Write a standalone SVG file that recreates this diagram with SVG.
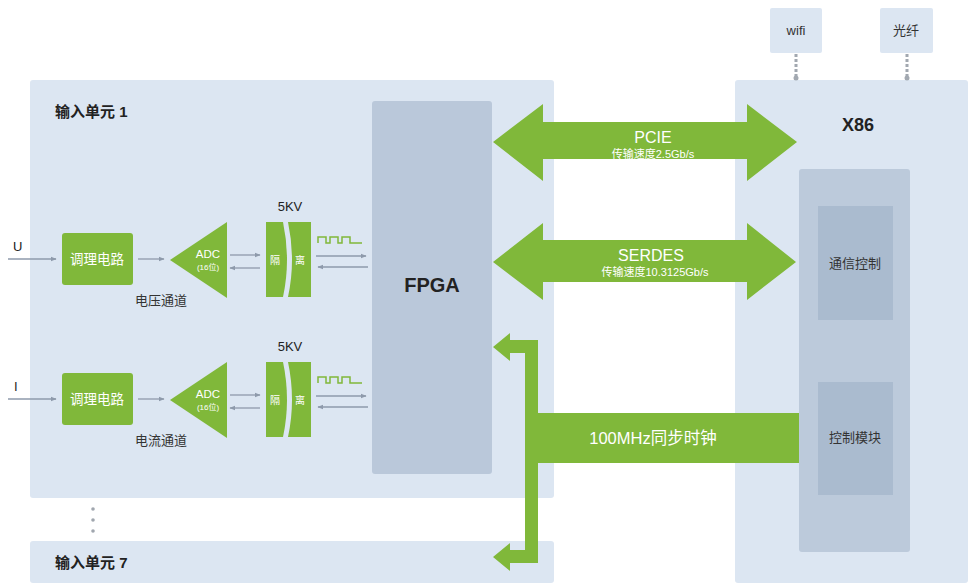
<svg xmlns="http://www.w3.org/2000/svg" width="968" height="585" viewBox="0 0 968 585">
<style>
text{font-family:"Liberation Sans","Noto Sans CJK SC",sans-serif}
.panel{fill:#dce6f2}
.fpga{fill:#bac8da}
.green{fill:#80b83a}
.wt{fill:#ffffff;text-anchor:middle}
.dk{fill:#222222}
.cn{fill:#333333;text-anchor:middle}
.ga{stroke:#8e9aab;stroke-width:1.3;fill:none;marker-end:url(#ah)}
.dot{stroke:#a2a8b0;stroke-width:3;stroke-dasharray:3 2;fill:none}
</style>
<defs>
<marker id="ah" viewBox="0 0 10 10" refX="9" refY="5" markerWidth="6" markerHeight="6" orient="auto" markerUnits="userSpaceOnUse">
<path d="M0,1 L10,5 L0,9 Z" fill="#8e9aab"/>
</marker>
</defs>
<rect width="968" height="585" fill="#ffffff"/>

<g id="unit1">
<rect class="panel" x="30" y="80" width="524" height="418" rx="3"/>
<text class="dk" x="55" y="117" font-size="15" font-weight="bold">输入单元 1</text>
</g>
<g id="unit7">
<rect class="panel" x="30" y="541" width="524" height="42" rx="3"/>
<text class="dk" x="55" y="568" font-size="15" font-weight="bold">输入单元 7</text>
</g>
<g id="ellipsis" fill="#a0a6ae">
<circle cx="93" cy="509" r="1.8"/><circle cx="93" cy="520" r="1.8"/><circle cx="93" cy="531" r="1.8"/>
</g>

<g id="x86">
<rect class="panel" x="735" y="80" width="233" height="503" rx="3"/>
<text class="dk" x="858" y="131" font-size="18" font-weight="bold" text-anchor="middle">X86</text>
<rect x="799" y="169" width="111" height="383" rx="3" fill="#bccadb"/>
</g>
<g id="comm">
<rect x="818" y="206" width="75" height="114" fill="#aabbcf"/>
<text class="cn" x="855" y="268" font-size="13">通信控制</text>
</g>
<g id="ctrl">
<rect x="818" y="382" width="75" height="113" fill="#aabbcf"/>
<text class="cn" x="855" y="442" font-size="13">控制模块</text>
</g>
<g id="wifi">
<rect class="panel" x="770" y="8" width="52" height="45" rx="2"/>
<text class="cn" x="796" y="35" font-size="13">wifi</text>
</g>
<g id="fiber">
<rect class="panel" x="880" y="8" width="53" height="45" rx="2"/>
<text class="cn" x="906" y="35" font-size="13">光纤</text>
</g>

<g id="fpga">
<rect class="fpga" x="372" y="101" width="120" height="373" rx="3"/>
<text class="dk" x="432" y="292" font-size="20" font-weight="bold" text-anchor="middle">FPGA</text>
</g>

<g id="ch1">
<rect class="green" x="62" y="233" width="71" height="52" rx="3"/>
<text class="wt" x="97" y="264" font-size="13.5">调理电路</text>
<path class="green" d="M170,260 L227,222 L227,298 Z"/>
<text class="wt" x="208" y="258" font-size="11.5">ADC</text>
<text class="wt" x="208" y="270" font-size="8">(16位)</text>
<path class="green" d="M266,222 H283 Q291,260 283,297 H266 Z"/>
<path class="green" d="M288,222 H311 V297 H288 Q296,260 288,222 Z"/>
<text class="wt" x="275" y="264" font-size="10">隔</text>
<text class="wt" x="300" y="264" font-size="10">离</text>
<text class="dk" x="290" y="211" font-size="13" text-anchor="middle">5KV</text>
<path d="M318,243 V237 H326 V243 H330 V237 H338 V243 H342 V237 H350 V243 H362" stroke="#80b83a" stroke-width="1.5" fill="none"/>
<text class="cn" x="161" y="305" font-size="13">电压通道</text>
<text class="dk" x="13" y="251" font-size="13">U</text>
</g>
<g id="ch2">
<rect class="green" x="62" y="373" width="71" height="52" rx="3"/>
<text class="wt" x="97" y="404" font-size="13.5">调理电路</text>
<path class="green" d="M170,400 L227,362 L227,438 Z"/>
<text class="wt" x="208" y="398" font-size="11.5">ADC</text>
<text class="wt" x="208" y="410" font-size="8">(16位)</text>
<path class="green" d="M266,362 H283 Q291,400 283,437 H266 Z"/>
<path class="green" d="M288,362 H311 V437 H288 Q296,400 288,362 Z"/>
<text class="wt" x="275" y="404" font-size="10">隔</text>
<text class="wt" x="300" y="404" font-size="10">离</text>
<text class="dk" x="290" y="351" font-size="13" text-anchor="middle">5KV</text>
<path d="M318,383 V377 H326 V383 H330 V377 H338 V383 H342 V377 H350 V383 H362" stroke="#80b83a" stroke-width="1.5" fill="none"/>
<text class="cn" x="161" y="445" font-size="13">电流通道</text>
<text class="dk" x="14" y="391" font-size="13">I</text>
</g>

<g id="connectors">
<line class="ga" x1="8" y1="259" x2="56" y2="259"/>
<line class="ga" x1="138" y1="259" x2="164" y2="259"/>
<line class="ga" x1="230" y1="255" x2="260" y2="255"/>
<line class="ga" x1="260" y1="268" x2="230" y2="268"/>
<line class="ga" x1="316" y1="256" x2="366" y2="256"/>
<line class="ga" x1="368" y1="267" x2="318" y2="267"/>

<line class="ga" x1="8" y1="399" x2="56" y2="399"/>
<line class="ga" x1="138" y1="399" x2="164" y2="399"/>
<line class="ga" x1="230" y1="395" x2="260" y2="395"/>
<line class="ga" x1="260" y1="408" x2="230" y2="408"/>
<line class="ga" x1="316" y1="396" x2="366" y2="396"/>
<line class="ga" x1="368" y1="407" x2="318" y2="407"/>

<line class="dot" x1="796" y1="54" x2="796" y2="76"/>
<line class="dot" x1="907" y1="54" x2="907" y2="76"/>
<circle cx="796" cy="78" r="2.5" fill="#a2a8b0"/>
<circle cx="907" cy="78" r="2.5" fill="#a2a8b0"/>

<g id="pcie">
<path class="green" d="M493,142 L543,104 L543,122 L747,122 L747,104 L797,142 L747,181 L747,159 L543,159 L543,181 Z"/>
<text class="wt" x="653" y="143" font-size="16">PCIE</text>
<text class="wt" x="653" y="158" font-size="11">传输速度2.5Gb/s</text>
</g>
<g id="serdes">
<path class="green" d="M493,262 L543,223 L543,240 L747,240 L747,223 L796,262 L747,300 L747,282 L543,282 L543,300 Z"/>
<text class="wt" x="651" y="261" font-size="16">SERDES</text>
<text class="wt" x="655" y="276" font-size="11">传输速度10.3125Gb/s</text>
</g>
<g id="clock">
<path class="green" d="M493,347 L510,333 L510,340 L538,340 L538,413 L799,413 L799,463 L538,463 L538,563 L510,563 L510,571 L493,557 L510,543 L510,550 L525,550 L525,353 L510,353 L510,361 Z"/>
<text class="wt" x="653" y="444" font-size="16.5">100MHz同步时钟</text>
</g>
</g>
</svg>
